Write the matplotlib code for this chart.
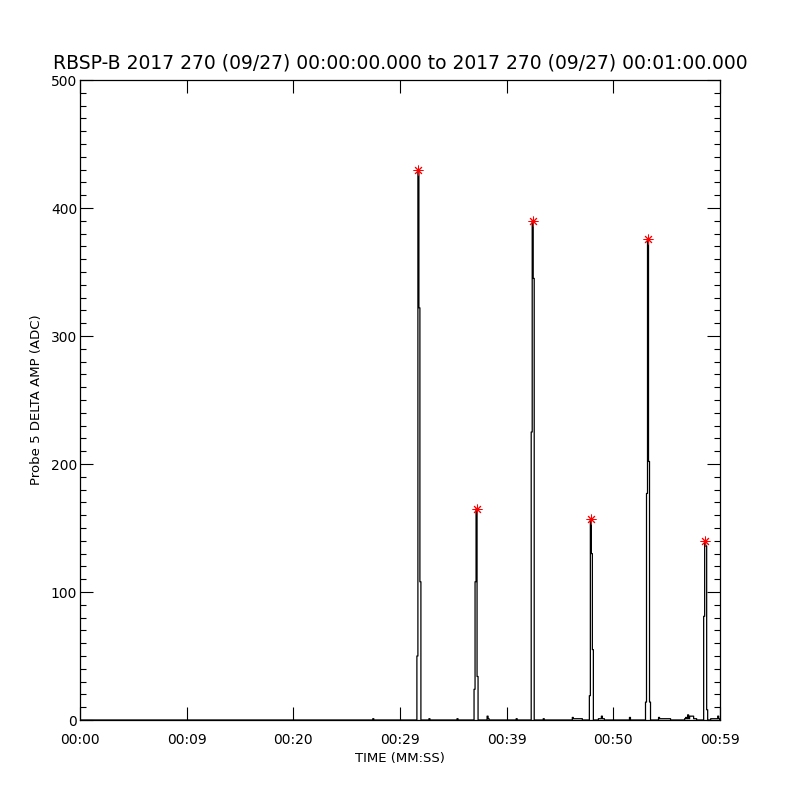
import numpy as np
import matplotlib
matplotlib.use('Agg')
import matplotlib.pyplot as plt
from matplotlib.ticker import MultipleLocator

# sample spacing of the probe data (seconds)
dt = 0.094

# main spikes: start time (s) and the successive sample values (ADC)
spike_starts = [31.55, 36.90, 42.33, 47.77, 53.02, 58.45]
spike_values = [
    [50, 430, 322, 108],
    [24, 108, 165, 34],
    [225, 390, 345],
    [19, 157, 130, 55],
    [14, 177, 376, 202, 14],
    [81, 140, 136, 8],
]

# small baseline wiggles
bump_starts = [27.45, 32.75, 35.35, 38.15, 40.85, 43.45, 46.15, 48.6,
               51.55, 54.2, 56.7, 59.1]
bump_values = [
    [1], [1], [1], [3, 1], [1], [1],
    [2, 1, 1, 1, 1, 1, 1, 1, 1, 1],
    [1, 1, 1, 3, 1, 1],
    [2],
    [2, 1, 1, 1, 1, 1, 1, 1, 1, 1, 1, 1],
    [1, 2, 1, 4, 1, 3, 3, 3, 3, 1, 1, 1],
    [1, 1, 1, 1, 1, 1, 1, 3, 1],
]

xtick_pos = [0, 10, 20, 30, 40, 50, 60]
xtick_labels = ['00:00', '00:09', '00:20', '00:29', '00:39', '00:50', '00:59']

title = 'RBSP-B 2017 270 (09/27) 00:00:00.000 to 2017 270 (09/27) 00:01:00.000'

# build the time series
n = int(round(60 / dt)) + 1
t = np.arange(n) * dt
amp = np.zeros(n)
for start, vals in zip(bump_starts + spike_starts, bump_values + spike_values):
    i0 = int(round(start / dt))
    for k, v in enumerate(vals):
        amp[i0 + k] = v

# peak of each spike
peak_t = []
peak_v = []
for start, vals in zip(spike_starts, spike_values):
    i0 = int(round(start / dt))
    k = int(np.argmax(vals))
    peak_t.append(t[i0 + k] + dt / 2)
    peak_v.append(vals[k])

fig = plt.figure(figsize=(8, 8), dpi=100)
ax = fig.add_axes([0.1, 0.1, 0.8, 0.8])

ax.step(t, amp, where='post', color='black', linewidth=0.9)
ax.plot(peak_t, peak_v, linestyle='none', marker=(8, 2, 0), markersize=7,
        markeredgecolor='red', markeredgewidth=0.7, color='red')

ax.set_xlim(0, 60)
ax.set_ylim(0, 500)
ax.set_xticks(xtick_pos)
ax.set_xticklabels(xtick_labels)
ax.yaxis.set_major_locator(MultipleLocator(100))
ax.yaxis.set_minor_locator(MultipleLocator(10))

ax.tick_params(which='both', direction='in', top=True, right=True, width=0.8)
ax.tick_params(axis='x', which='major', length=9.5, pad=9, labelsize=10)
ax.tick_params(axis='y', which='major', length=9.5, pad=2, labelsize=10)
ax.tick_params(axis='y', which='minor', length=4.5)
for sp in ax.spines.values():
    sp.set_linewidth(0.9)

ax.set_xlabel('TIME (MM:SS)', fontsize=9.5, labelpad=4)
ax.set_ylabel('Probe 5 DELTA AMP (ADC)', fontsize=9.5, labelpad=6)
ax.set_title(title, fontsize=13.5, pad=8)

fig.savefig('out.png', dpi=100)
